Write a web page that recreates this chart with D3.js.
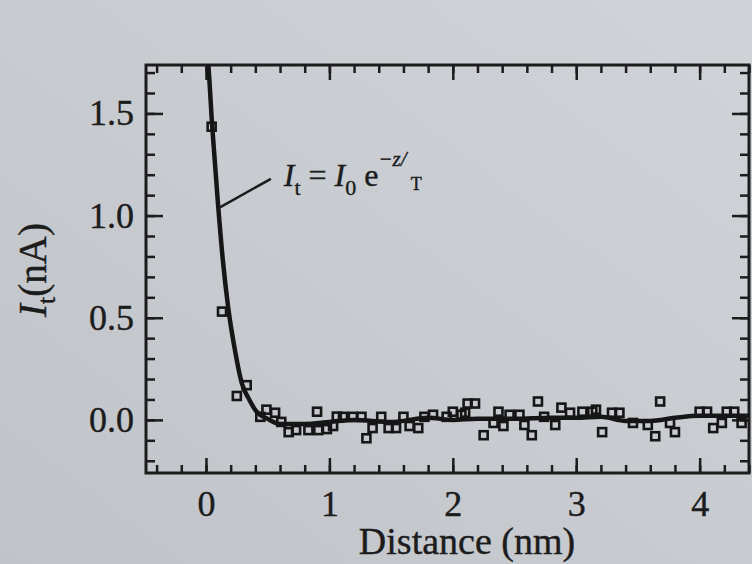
<!DOCTYPE html>
<html lang="en">
<head>
    <meta charset="UTF-8">
    <title>Tunnelling current vs distance</title>
    <style>
        body {
            margin: 0;
            overflow: hidden;
            background: #c6c9ce;
        }
        text {
            font-family: "Liberation Serif", "DejaVu Serif", serif;
            fill: #1c1c1c;
            stroke: #1c1c1c;
            stroke-width: 0.4px;
        }
        .axis line {
            stroke: #1c1c1c;
            stroke-width: 2.5px;
        }
        .axis path {
            display: none;
        }
        .axis text {
            font-size: 36px;
        }
    </style>
</head>
<body>
    <svg id="chart"></svg>
    <script src="https://cdnjs.cloudflare.com/ajax/libs/d3/7.8.5/d3.min.js"></script>
    <script>
        // measured points (distance in nm, current in nA)
        const pointZ = [0.046, 0.13, 0.25, 0.33, 0.44, 0.49, 0.56, 0.61, 0.67, 0.73, 0.83, 0.90, 0.91, 0.98,
            1.03, 1.06, 1.11, 1.19, 1.26, 1.30, 1.35, 1.42, 1.48, 1.54, 1.60, 1.65, 1.72, 1.77, 1.84, 1.95,
            2.00, 2.07, 2.10, 2.12, 2.18, 2.25, 2.33, 2.37, 2.41, 2.46, 2.54, 2.58, 2.64, 2.69, 2.74, 2.83,
            2.88, 2.95, 3.05, 3.13, 3.16, 3.21, 3.29, 3.35, 3.46, 3.58, 3.64, 3.68, 3.76, 3.80, 4.00, 4.06,
            4.11, 4.18, 4.22, 4.28, 4.34];
        const pointI = [1.435, 0.53, 0.117, 0.17, 0.015, 0.05, 0.035, -0.01, -0.06, -0.05, -0.05, 0.04, -0.05, -0.045,
            -0.03, 0.016, 0.015, 0.015, 0.015, -0.09, -0.04, 0.015, -0.04, -0.04, 0.015, -0.03, -0.04, 0.015, 0.025, 0.015,
            0.04, 0.025, 0.035, 0.08, 0.08, -0.075, -0.015, 0.04, -0.03, 0.025, 0.025, -0.025, -0.075, 0.09, 0.015, -0.025,
            0.06, 0.035, 0.04, 0.04, 0.05, -0.06, 0.035, 0.035, -0.015, -0.025, -0.08, 0.09, -0.015, -0.06, 0.04, 0.04,
            -0.04, -0.015, 0.04, 0.04, -0.015];

        // fitted curve
        const curveZ = [0.01, 0.02, 0.05, 0.097, 0.137, 0.18, 0.235, 0.29, 0.35, 0.41, 0.5, 0.6, 0.8, 1.0, 1.2,
            1.5, 1.8, 2.0, 2.2, 2.5, 2.8, 3.0, 3.2, 3.4, 3.6, 3.8, 4.0, 4.2, 4.45];
        const curveI = [1.80, 1.73, 1.44, 1.06, 0.78, 0.55, 0.34, 0.18, 0.10, 0.04, 0.005, -0.02, -0.02, -0.01, 0.0,
            -0.01, 0.01, 0.0, 0.005, 0.005, 0.01, 0.01, 0.015, -0.005, -0.005, 0.01, 0.02, 0.02, 0.02];

        const xMajor = [0, 1, 2, 3, 4];
        const xMinor = d3.range(-0.4, 4.41, 0.2);
        const yMajor = [0.0, 0.5, 1.0, 1.5];
        const yMinor = d3.range(-0.2, 1.71, 0.1);

        const width = 752;
        const height = 564;
        const margin = { top: 65, right: 3, bottom: 91, left: 146 };
        const innerW = width - margin.left - margin.right;
        const innerH = height - margin.top - margin.bottom;

        const svg = d3.select("#chart")
            .attr("width", width)
            .attr("height", height);

        // paper
        const grad = svg.append("defs").append("linearGradient")
            .attr("id", "paper")
            .attr("x1", "0%").attr("y1", "100%")
            .attr("x2", "100%").attr("y2", "0%");
        grad.append("stop").attr("offset", "0%").attr("stop-color", "#c0c3c8");
        grad.append("stop").attr("offset", "100%").attr("stop-color", "#d0d3d8");
        svg.append("rect")
            .attr("width", width)
            .attr("height", height)
            .attr("fill", "url(#paper)");

        svg.select("defs").append("clipPath")
            .attr("id", "plotclip")
            .append("rect")
            .attr("width", innerW)
            .attr("height", innerH);

        const g = svg.append("g")
            .attr("transform", `translate(${margin.left},${margin.top})`);

        const x = d3.scaleLinear().domain([-0.486, 4.40]).range([0, innerW]);
        const y = d3.scaleLinear().domain([-0.26, 1.737]).range([innerH, 0]);

        // ticks on all four sides, pointing inward
        g.append("g").attr("class", "axis")
            .attr("transform", `translate(0,${innerH})`)
            .call(d3.axisBottom(x).tickValues(xMinor).tickSize(-8).tickFormat(""));
        g.append("g").attr("class", "axis")
            .attr("transform", `translate(0,${innerH})`)
            .call(d3.axisBottom(x).tickValues(xMajor).tickSize(-15).tickPadding(17).tickFormat(d3.format("d")));
        g.append("g").attr("class", "axis")
            .call(d3.axisTop(x).tickValues(xMinor).tickSize(-8).tickFormat(""));
        g.append("g").attr("class", "axis")
            .call(d3.axisTop(x).tickValues(xMajor).tickSize(-15).tickFormat(""));

        g.append("g").attr("class", "axis")
            .call(d3.axisLeft(y).tickValues(yMinor).tickSize(-9).tickFormat(""));
        g.append("g").attr("class", "axis")
            .call(d3.axisLeft(y).tickValues(yMajor).tickSize(-17).tickPadding(12).tickFormat(d3.format(".1f")));
        g.append("g").attr("class", "axis")
            .attr("transform", `translate(${innerW},0)`)
            .call(d3.axisRight(y).tickValues(yMinor).tickSize(-9).tickFormat(""));
        g.append("g").attr("class", "axis")
            .attr("transform", `translate(${innerW},0)`)
            .call(d3.axisRight(y).tickValues(yMajor).tickSize(-17).tickFormat(""));

        g.append("rect")
            .attr("width", innerW)
            .attr("height", innerH)
            .attr("fill", "none")
            .attr("stroke", "#1c1c1c")
            .attr("stroke-width", 3);

        const plot = g.append("g").attr("clip-path", "url(#plotclip)");

        const line = d3.line()
            .x((d, i) => x(curveZ[i]))
            .y((d, i) => y(curveI[i]))
            .curve(d3.curveMonotoneX);

        plot.append("path")
            .datum(curveZ)
            .attr("d", line)
            .attr("fill", "none")
            .attr("stroke", "#161616")
            .attr("stroke-width", 4.5)
            .attr("stroke-linejoin", "round");

        plot.selectAll(".pt")
            .data(pointZ)
            .enter()
            .append("rect")
            .attr("class", "pt")
            .attr("x", (d, i) => x(d) - 4)
            .attr("y", (d, i) => y(pointI[i]) - 4)
            .attr("width", 8)
            .attr("height", 8)
            .attr("fill", "none")
            .attr("stroke", "#161616")
            .attr("stroke-width", 2.6);

        // annotation with leader line
        g.append("line")
            .attr("x1", x(0.113)).attr("y1", y(1.04))
            .attr("x2", x(0.526)).attr("y2", y(1.18))
            .attr("stroke", "#1c1c1c")
            .attr("stroke-width", 2.5);

        const eq = g.append("text")
            .attr("x", x(0.63))
            .attr("y", y(1.145))
            .attr("font-size", 32);
        eq.append("tspan").attr("font-style", "italic").text("I");
        eq.append("tspan").attr("font-size", 22).attr("dy", 9).text("t");
        eq.append("tspan").attr("dy", -9).text(" = ");
        eq.append("tspan").attr("font-style", "italic").text("I");
        eq.append("tspan").attr("font-size", 22).attr("dy", 9).text("0");
        eq.append("tspan").attr("dy", -9).text(" e");
        eq.append("tspan").attr("font-size", 21).attr("font-style", "italic").attr("dy", -20).text("\u2212z/");

        g.append("text")
            .attr("x", x(1.66))
            .attr("y", y(1.125))
            .attr("font-size", 18)
            .text("T");

        // axis titles
        svg.append("text")
            .attr("x", 467)
            .attr("y", 554)
            .attr("text-anchor", "middle")
            .attr("font-size", 38)
            .text("Distance (nm)");

        const yt = svg.append("text")
            .attr("transform", "translate(46,270) rotate(-90)")
            .attr("text-anchor", "middle")
            .attr("font-size", 39);
        yt.append("tspan").attr("font-style", "italic").text("I");
        yt.append("tspan").attr("font-size", 26).attr("dy", 9).text("t");
        yt.append("tspan").attr("dy", -9).text("(nA)");
    </script>
</body>
</html>
